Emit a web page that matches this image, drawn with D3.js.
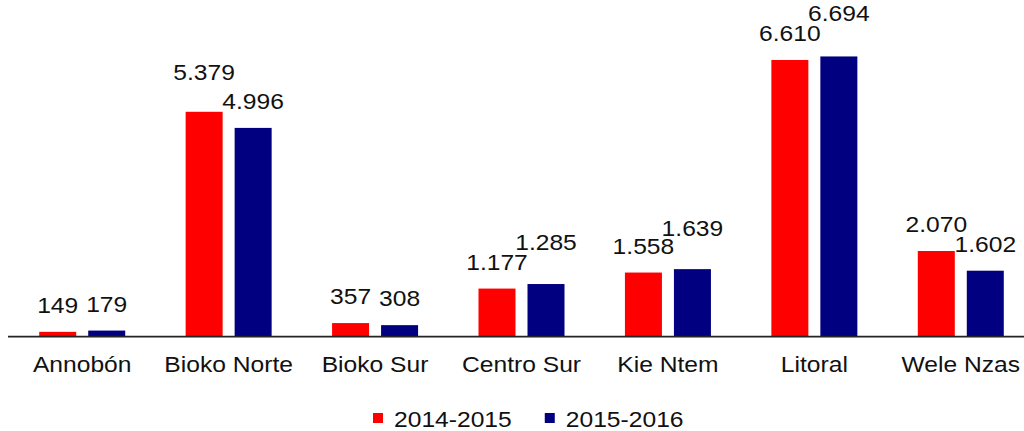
<!DOCTYPE html>
<html>
<head>
<meta charset="utf-8">
<script src="https://cdn.jsdelivr.net/npm/d3@7"></script>
<style>
  html, body { margin: 0; padding: 0; background: #fff; }
  svg { display: block; font-family: 'Liberation Sans', Arial, sans-serif; }
</style>
</head>
<body>
<div id="chart"></div>
<script>
const categories = ['Annobón', 'Bioko Norte', 'Bioko Sur', 'Centro Sur', 'Kie Ntem', 'Litoral', 'Wele Nzas'];
const seriesNames = ['2014-2015', '2015-2016'];
const values2014 = [149, 5379, 357, 1177, 1558, 6610, 2070];
const values2015 = [179, 4996, 308, 1285, 1639, 6694, 1602];

// extra lift for labels that were pushed up to avoid overlapping
const lift2014 = [0, 13, 0, 0, 0, 0, 0];
const lift2015 = [0, 0, 0, 15, 14, 16, 0];

const colors = ['#ff0000', '#000080'];

const width = 1024;
const height = 431;
const baseY = 336;
const stretch = 1.12; // text in the original is slightly wide
const yMin = 50; // value axis of the original does not start at zero

const svg = d3.select('#chart').append('svg')
    .attr('width', width)
    .attr('height', height);

const x0 = d3.scaleBand()
    .domain(categories)
    .range([9, 1034])
    .paddingInner(0.4127)
    .paddingOuter(0.2063);

const x1 = d3.scaleBand()
    .domain(seriesNames)
    .range([0, x0.bandwidth()])
    .paddingInner(0.245);

const y = d3.scaleLinear()
    .domain([yMin, 8000])
    .range([baseY, 1.5]);

const fmt = d3.formatLocale({ decimal: ',', thousands: '.', grouping: [3], currency: ['', ''] }).format(',d');

const rows = categories.map((c, i) => ({
    name: c,
    vals: [
        { key: seriesNames[0], value: values2014[i], lift: lift2014[i], color: colors[0] },
        { key: seriesNames[1], value: values2015[i], lift: lift2015[i], color: colors[1] }
    ]
}));

const groups = svg.selectAll('g.cat')
    .data(rows)
    .enter()
    .append('g')
    .attr('class', 'cat')
    .attr('transform', d => `translate(${x0(d.name)},0)`);

groups.selectAll('rect')
    .data(d => d.vals)
    .enter()
    .append('rect')
    .attr('x', d => x1(d.key))
    .attr('y', d => y(d.value))
    .attr('width', x1.bandwidth())
    .attr('height', d => baseY - y(d.value))
    .attr('fill', d => d.color);

// value labels
groups.selectAll('text.val')
    .data(d => d.vals)
    .enter()
    .append('text')
    .attr('class', 'val')
    .attr('text-anchor', 'middle')
    .attr('font-size', 22)
    .attr('fill', '#111')
    .attr('transform', d => `translate(${x1(d.key) + x1.bandwidth() / 2},${y(d.value) - 19 - d.lift}) scale(${stretch},1)`)
    .text(d => fmt(d.value));

// axis line
svg.append('line')
    .attr('x1', 8)
    .attr('x2', width)
    .attr('y1', baseY + 0.7)
    .attr('y2', baseY + 0.7)
    .attr('stroke', '#222')
    .attr('stroke-width', 1.8);

// category labels
const xAxis = d3.axisBottom(x0).tickSize(0).tickPadding(0);
const axisG = svg.append('g')
    .attr('transform', `translate(0,${baseY})`)
    .call(xAxis);
axisG.select('.domain').remove();
axisG.selectAll('.tick text')
    .attr('y', 0)
    .attr('dy', 0)
    .attr('font-size', 22)
    .attr('font-family', "'Liberation Sans', Arial, sans-serif")
    .attr('fill', '#111')
    .attr('transform', `translate(0,36) scale(${stretch},1)`);

// legend
const legend = svg.append('g').attr('transform', 'translate(373,0)');
let lx = 0;
seriesNames.forEach((name, i) => {
    legend.append('rect')
        .attr('x', lx)
        .attr('y', 413)
        .attr('width', 10)
        .attr('height', 10)
        .attr('fill', colors[i]);
    const t = legend.append('text')
        .attr('font-size', 22)
        .attr('fill', '#111')
        .attr('transform', `translate(${lx + 21},427) scale(${stretch},1)`)
        .text(name);
    lx += 21 + t.node().getComputedTextLength() * stretch + 33;
});
</script>
</body>
</html>
